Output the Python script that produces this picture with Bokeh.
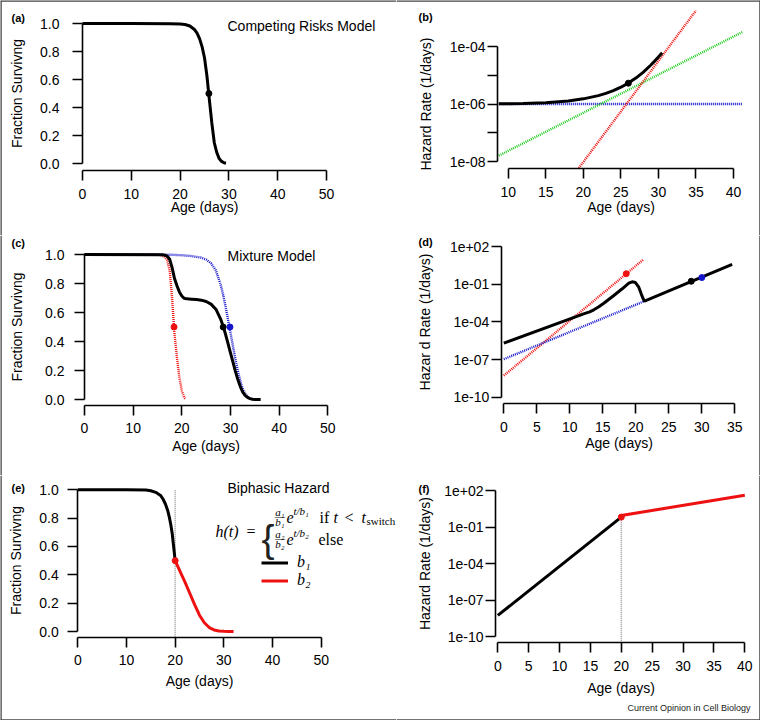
import math
from bokeh.plotting import figure
from bokeh.models import Range1d, FixedTicker, Label, Legend, LegendItem, PrintfTickFormatter, Span
from bokeh.layouts import column, row
from bokeh.embed import file_html
from bokeh.resources import INLINE

SANS = "Liberation Sans"
SERIF = "Liberation Serif"
RED = "#ee1111"
BLUE = "#1515cc"
GREEN = "#22cc22"

# ------------------------------------------------------------------ data
frac_ticks = [0.0, 0.2, 0.4, 0.6, 0.8, 1.0]
age_ticks_50 = [0, 10, 20, 30, 40, 50]
age_ticks_b = [10, 15, 20, 25, 30, 35, 40]
age_ticks_d = [0, 5, 10, 15, 20, 25, 30, 35]
age_ticks_f = [0, 5, 10, 15, 20, 25, 30, 35, 40]
haz_ticks_b = [1e-08, 1e-07, 1e-06, 1e-05, 1e-04]
haz_labels_b = ["1e-08", "", "1e-06", "", "1e-04"]
haz_ticks_df = [1e-10, 1e-07, 1e-04, 1e-01, 1e+02]
haz_labels_df = ["1e-10", "1e-07", "1e-04", "1e-01", "1e+02"]

# (a) competing risks: survival
a_age = [0, 10, 18, 20, 21, 22, 23, 23.5, 24, 24.5, 25, 25.5, 26, 26.5, 27, 27.5, 28, 28.5, 29, 29.4]
a_surv = [1.0, 1.0, 0.999, 0.997, 0.993, 0.982, 0.955, 0.93, 0.89, 0.835, 0.755, 0.625, 0.455, 0.29, 0.15,
          0.08, 0.035, 0.015, 0.005, 0.002]
a_half_age = [25.9]
a_half_surv = [0.5]

# (b) competing risks: hazards
b_age = [8.75, 12, 15, 18, 20, 22, 23, 24, 25, 26, 27, 28, 29, 29.5, 30, 30.5]
b_haz = [1.02e-06, 1.04e-06, 1.11e-06, 1.27e-06, 1.51e-06, 1.96e-06, 2.35e-06, 2.93e-06, 3.83e-06,
         5.33e-06, 7.96e-06, 1.29e-05, 2.27e-05, 3.1e-05, 4.29e-05, 6.04e-05]
b_half_age = [26.0]
b_half_haz = [5.3e-06]
b_const_age = [8.75, 41.2]
b_const_haz = [1e-06, 1e-06]
b_slow_age = [8.75, 41.2]
b_slow_haz = [1.6e-08, 3.2e-04]
b_fast_age = [19.4, 35.0]
b_fast_haz = [5.9e-09, 1.78e-03]

# (c) mixture model: survival
c_red_age = [0, 14, 15, 16, 16.5, 17, 17.5, 18, 18.5, 19, 19.5, 20, 20.5, 20.8]
c_red_surv = [1.0, 1.0, 0.998, 0.993, 0.982, 0.96, 0.89, 0.70, 0.45, 0.29, 0.15, 0.06, 0.012, 0.002]
c_blue_age = [0, 15, 18, 20, 22, 24, 25, 26, 27, 28, 28.5, 29, 29.5, 30, 30.5, 31, 31.5, 32, 32.5, 33,
              33.5, 34, 34.5]
c_blue_surv = [1.0, 1.0, 0.998, 0.995, 0.989, 0.978, 0.965, 0.94, 0.89, 0.79, 0.72, 0.64, 0.55, 0.46, 0.37,
               0.28, 0.20, 0.13, 0.075, 0.04, 0.02, 0.008, 0.003]
c_mix_age = [0, 15, 16, 16.5, 17, 17.5, 18, 18.5, 19, 19.5, 20, 20.5, 21, 22, 23, 24, 25, 26, 27, 28, 28.5,
             29, 29.5, 30, 30.5, 31, 31.5, 32, 32.5, 33, 33.5, 34, 34.5, 35, 36.2]
c_mix_surv = [1.0, 0.999, 0.998, 0.995, 0.988, 0.967, 0.909, 0.834, 0.785, 0.742, 0.714, 0.698, 0.694, 0.692,
              0.689, 0.685, 0.676, 0.658, 0.623, 0.553, 0.504, 0.448, 0.385, 0.322, 0.259, 0.196, 0.14,
              0.091, 0.053, 0.028, 0.014, 0.006, 0.002, 0.0, 0.0]
c_red_half = ([18.4], [0.5])
c_blue_half = ([29.9], [0.5])
c_mix_half = ([28.5], [0.5])

# (d) mixture model: hazards
d_mix_age = [0, 12.2, 13.0, 13.64, 14.4, 15.15, 16.67, 17.94, 18.94, 19.45, 19.95, 20.45, 20.82, 21.12,
             21.32, 34.6]
d_mix_haz = [2.0e-06, 4.47e-04, 6.3e-04, 9.1e-04, 1.58e-03, 3.0e-03, 1.26e-02, 4.3e-02, 0.12, 0.155, 0.135,
             0.0575, 0.017, 6.8e-03, 4.4e-03, 3.7]
d_red_age = [0, 21.1]
d_red_haz = [5.2e-09, 8.7]
d_blue_age = [0, 21.3]
d_blue_haz = [1.07e-07, 4.4e-03]
d_red_half = ([18.55], [0.676])
d_mix_half = ([28.4], [0.17])
d_blue_half = ([30.0], [0.335])

# (e) biphasic hazard: survival
e_b1_age = [0, 10, 14, 15, 16, 17, 17.5, 18, 18.5, 18.8, 19.1, 19.4, 19.7, 20]
e_b1_surv = [1.0, 1.0, 0.998, 0.993, 0.982, 0.96, 0.935, 0.90, 0.85, 0.807, 0.755, 0.69, 0.595, 0.50]
e_b2_age = [20, 21, 22, 23, 24, 25, 26, 27, 28, 29, 30, 31, 32]
e_b2_surv = [0.50, 0.425, 0.35, 0.27, 0.19, 0.115, 0.062, 0.028, 0.011, 0.004, 0.0015, 0.0005, 0.0002]
t_switch = 20

# (f) biphasic hazard: hazards
f_b1_age = [0, 20]
f_b1_haz = [5.4e-09, 0.65]
f_b2_age = [20, 40]
f_b2_haz = [0.89, 40.0]
f_switch_haz = [0.65]

# ------------------------------------------------------------------ layout (page pixels)
# each canvas is entirely frame; axes are drawn at fixed locations inside it
SPEC = {
    "a": dict(origin=(0, 0), w=396, h=235, xmap=(82, 0, 326, 50), ymap=(23, 1.0, 163, 0.0),
              yaxis_px=82, xaxis_py=170, log=False),
    "b": dict(origin=(396, 0), w=364, h=235, xmap=(507.7, 10, 733, 40), ymap=(46, -4, 161, -8),
              yaxis_px=497, xaxis_py=168, log=True),
    "c": dict(origin=(0, 235), w=396, h=240, xmap=(84, 0, 327.3, 50), ymap=(254, 1.0, 399, 0.0),
              yaxis_px=84, xaxis_py=404.7, log=False),
    "d": dict(origin=(396, 235), w=364, h=240, xmap=(503.3, 0, 734.3, 35), ymap=(246, 2, 396.7, -10),
              yaxis_px=500.7, xaxis_py=403.3, log=True),
    "e": dict(origin=(0, 475), w=396, h=245, xmap=(77.3, 0, 320.7, 50), ymap=(489.3, 1.0, 631, 0.0),
              yaxis_px=77.3, xaxis_py=636.7, log=False),
    "f": dict(origin=(396, 475), w=364, h=245, xmap=(497.3, 0, 744.3, 40), ymap=(490, 2, 636, -10),
              yaxis_px=495, xaxis_py=642.3, log=True),
}


def px_x(s, px):
    a, va, b, vb = s["xmap"]
    return va + (px - a) * (vb - va) / (b - a)


def px_y(s, py):
    a, va, b, vb = s["ymap"]
    v = va + (py - a) * (vb - va) / (b - a)
    return 10 ** v if s["log"] else v


def make(key, xticks, yticks, ylabels, xlabel, ylabel, ystand, ylab_stand, xlab_stand, edges):
    s = SPEC[key]
    ox, oy = s["origin"]
    xr = (px_x(s, ox), px_x(s, ox + s["w"]))
    yr = (px_y(s, oy + s["h"]), px_y(s, oy))
    p = figure(width=s["w"], height=s["h"], x_range=Range1d(*xr), y_range=Range1d(*yr),
               y_axis_type="log" if s["log"] else "linear",
               output_backend="svg", toolbar_location=None,
               min_border_left=0, min_border_right=0, min_border_top=0, min_border_bottom=0)
    p.outline_line_color = None
    p.grid.visible = False
    p.background_fill_color = "white"
    p.border_fill_color = "white"
    xa, ya = p.xaxis[0], p.yaxis[0]
    for ax in (xa, ya):
        ax.axis_line_width = 1.6
        ax.axis_line_color = "black"
        ax.major_tick_line_width = 1.6
        ax.major_tick_line_color = "black"
        ax.major_tick_out = 10
        ax.major_tick_in = 0
        ax.minor_tick_out = 0
        ax.minor_tick_in = 0
        ax.major_label_text_font = SANS
        ax.major_label_text_font_size = "14px"
        ax.major_label_text_color = "black"
        ax.axis_label_text_font = SANS
        ax.axis_label_text_font_size = "14px"
        ax.axis_label_text_font_style = "normal"
        ax.axis_label_text_color = "black"
    xa.fixed_location = px_y(s, s["xaxis_py"])
    ya.fixed_location = px_x(s, s["yaxis_px"])
    xa.ticker = FixedTicker(ticks=xticks)
    xa.bounds = (xticks[0], xticks[-1])
    xa.major_label_standoff = 8
    xa.axis_label_standoff = xlab_stand
    xa.axis_label = xlabel
    ya.ticker = FixedTicker(ticks=yticks)
    ya.bounds = (yticks[0], yticks[-1])
    ya.major_label_standoff = ystand
    ya.axis_label_standoff = ylab_stand
    ya.axis_label = ylabel
    if ylabels is None:
        ya.formatter = PrintfTickFormatter(format="%.1f")
    else:
        ya.major_label_overrides = {t: lab for t, lab in zip(yticks, ylabels)}
    # thin frame around the whole picture, drawn on the canvas edges that touch it
    edge_loc = {"left": ("height", xr[0]), "right": ("height", xr[1]),
                "top": ("width", yr[1]), "bottom": ("width", yr[0])}
    for e in edges:
        dim, loc = edge_loc[e]
        p.add_layout(Span(location=loc, dimension=dim, line_color="#444444", line_width=2.5))
    return p


def label(p, key, px, py, text, size, font=SANS, style="normal", align="left",
          baseline="middle", color="black"):
    s = SPEC[key]
    p.add_layout(Label(x=px_x(s, px), y=px_y(s, py), text=text, text_font=font,
                       text_font_size=f"{size}px", text_font_style=style, text_align=align,
                       text_baseline=baseline, text_color=color))


DOT = dict(line_width=2.4, line_dash="1 1")

# ------------------------------------------------------------------ (a)
pa = make("a", age_ticks_50, frac_ticks, None, "Age (days)", "Fraction Survivng", 13, 12, -3,
          ["left", "top"])
pa.line(a_age, a_surv, line_color="black", line_width=3)
pa.scatter(a_half_age, a_half_surv, size=6, color="black")
label(pa, "a", 11, 17, "(a)", 11, style="bold")
label(pa, "a", 227, 25, "Competing Risks Model", 14)

# ------------------------------------------------------------------ (b)
pb = make("b", age_ticks_b, haz_ticks_b, haz_labels_b, "Age (days)", "Hazard Rate (1/days)", 2, 13, -1,
          ["right", "top"])
pb.line(b_const_age, b_const_haz, line_color=BLUE, **DOT)
pb.line(b_slow_age, b_slow_haz, line_color=GREEN, **DOT)
pb.line(b_fast_age, b_fast_haz, line_color=RED, **DOT)
pb.line(b_age, b_haz, line_color="black", line_width=3)
pb.scatter(b_half_age, b_half_haz, size=6, color="black")
label(pb, "b", 418, 16, "(b)", 11, style="bold")

# ------------------------------------------------------------------ (c)
pc = make("c", age_ticks_50, frac_ticks, None, "Age (days)", "Fraction Survivng", 10, 17, 1, ["left"])
pc.line(c_red_age, c_red_surv, line_color=RED, **DOT)
pc.line(c_blue_age, c_blue_surv, line_color=BLUE, **DOT)
pc.line(c_mix_age, c_mix_surv, line_color="black", line_width=3)
pc.scatter(*c_red_half, size=6, color=RED)
pc.scatter(*c_mix_half, size=6, color="black")
pc.scatter(*c_blue_half, size=6, color=BLUE)
label(pc, "c", 11, 242, "(c)", 11, style="bold")
label(pc, "c", 227, 255, "Mixture Model", 14)

# ------------------------------------------------------------------ (d)
pd_ = make("d", age_ticks_d, haz_ticks_df, haz_labels_df, "Age (days)", "Hazar d Rate (1/days)", 2, 14, 0,
           ["right"])
pd_.line(d_red_age, d_red_haz, line_color=RED, **DOT)
pd_.line(d_blue_age, d_blue_haz, line_color=BLUE, **DOT)
pd_.line(d_mix_age, d_mix_haz, line_color="black", line_width=3)
pd_.scatter(*d_red_half, size=6, color=RED)
pd_.scatter(*d_mix_half, size=6, color="black")
pd_.scatter(*d_blue_half, size=6, color=BLUE)
label(pd_, "d", 418, 241, "(d)", 11, style="bold")

# ------------------------------------------------------------------ (e)
pe = make("e", age_ticks_50, frac_ticks, None, "Age (days)", "Fraction Survivng", 9, 12, 4,
          ["left", "bottom"])
pe.segment(x0=[t_switch], y0=[px_y(SPEC["e"], SPEC["e"]["xaxis_py"])], x1=[t_switch], y1=[1.0],
           line_color="#999999", line_width=1.5, line_dash="1 1")
r_b1 = pe.line(e_b1_age, e_b1_surv, line_color="black", line_width=3)
r_b2 = pe.line(e_b2_age, e_b2_surv, line_color=RED, line_width=3)
pe.scatter([t_switch], [e_b2_surv[0]], size=6, color=RED)
label(pe, "e", 11, 487, "(e)", 11, style="bold")
label(pe, "e", 227, 487, "Biphasic Hazard", 14)
# formula h(t)
label(pe, "e", 215, 531, "h(t)", 16, font=SERIF, style="italic", baseline="alphabetic")
label(pe, "e", 246, 531, "=", 16, font=SERIF, baseline="alphabetic")
label(pe, "e", 261, 538, "{", 39, font=SANS, baseline="alphabetic", color="#222222")
for (num, den, sup, yb, tail) in [("a₁", "b₁", "t/b₁", 517, True), ("a₂", "b₂", "t/b₂", 539, False)]:
    label(pe, "e", 279.5, yb - 6, num, 11, font=SERIF, style="italic", align="center", baseline="alphabetic")
    label(pe, "e", 279.5, yb - 1.2, "—", 10, font=SERIF, align="center", baseline="alphabetic")
    label(pe, "e", 279.5, yb + 4.5, den, 11, font=SERIF, style="italic", align="center", baseline="alphabetic")
    label(pe, "e", 286, yb, "e", 16, font=SERIF, style="italic", baseline="alphabetic")
    label(pe, "e", 293, yb - 7, sup, 11, font=SERIF, style="italic", baseline="alphabetic")
    if tail:
        label(pe, "e", 319, yb, "if", 16, font=SERIF, baseline="alphabetic")
        label(pe, "e", 333, yb, "t", 16, font=SERIF, style="italic", baseline="alphabetic")
        label(pe, "e", 344, yb, "<", 16, font=SERIF, baseline="alphabetic")
        label(pe, "e", 361, yb, "t", 16, font=SERIF, style="italic", baseline="alphabetic")
        label(pe, "e", 366, yb + 3, "switch", 11, font=SERIF, baseline="alphabetic")
    else:
        label(pe, "e", 318, yb, "else", 16, font=SERIF, baseline="alphabetic")
legend = Legend(items=[LegendItem(label="b₁", renderers=[r_b1]), LegendItem(label="b₂", renderers=[r_b2])],
                location=(261, 131), orientation="vertical", border_line_color=None,
                background_fill_alpha=0, padding=0, margin=0, spacing=0,
                glyph_width=27, glyph_height=17, label_height=17, label_standoff=9,
                label_text_font=SERIF, label_text_font_style="italic", label_text_font_size="16px",
                label_text_color="black")
pe.add_layout(legend)

# ------------------------------------------------------------------ (f)
pf = make("f", age_ticks_f, haz_ticks_df, haz_labels_df, "Age (days)", "Hazard Rate (1/days)", 2, 8, 6,
          ["right", "bottom"])
pf.segment(x0=[t_switch], y0=[px_y(SPEC["f"], SPEC["f"]["xaxis_py"])], x1=[t_switch], y1=[1.0],
           line_color="#999999", line_width=1.5, line_dash="1 1")
pf.line(f_b1_age, f_b1_haz, line_color="black", line_width=3)
pf.line(f_b2_age, f_b2_haz, line_color=RED, line_width=3)
pf.scatter([t_switch], f_switch_haz, size=6, color=RED)
label(pf, "f", 418, 488, "(f)", 11, style="bold")
label(pf, "f", 750, 707, "Current Opinion in Cell Biology", 9, align="right", color="#222222")

layout = column(row(pa, pb), row(pc, pd_), row(pe, pf))
open("out.html", "w").write(file_html(layout, INLINE))
